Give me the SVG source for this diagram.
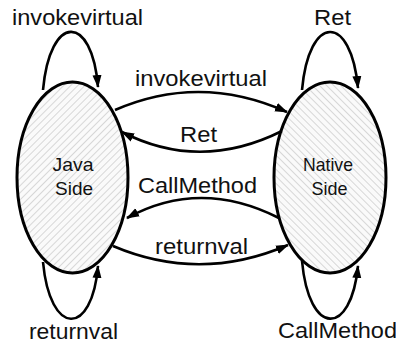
<svg xmlns="http://www.w3.org/2000/svg" width="396" height="346" viewBox="0 0 396 346">
<style>
.lbl{font-family:"Liberation Sans",Arial,sans-serif;font-size:22px;fill:#111}
.nl{font-family:"Liberation Sans",Arial,sans-serif;font-size:18.5px;fill:#111;text-anchor:middle}
.node{stroke:#000;stroke-width:3}
.edge{fill:none;stroke:#000;stroke-width:2.6}
</style>
<defs>
<pattern id="hatchJ" patternUnits="userSpaceOnUse" width="5" height="5" patternTransform="rotate(45)">
<rect width="5" height="5" fill="#fafafa"/>
<line x1="0" y1="0" x2="0" y2="5" stroke="#c4c4c4" stroke-width="1.3"/>
</pattern>
<pattern id="hatchN" patternUnits="userSpaceOnUse" width="5" height="5" patternTransform="rotate(-45)">
<rect width="5" height="5" fill="#fafafa"/>
<line x1="0" y1="0" x2="0" y2="5" stroke="#c4c4c4" stroke-width="1.3"/>
</pattern>
<marker id="arr" markerUnits="userSpaceOnUse" markerWidth="14" markerHeight="10" refX="12" refY="5" orient="auto">
<path d="M0,0.5 L13,5 L0,9.5 z" fill="#000"/>
</marker>
</defs>
<g id="java">
<ellipse class="node" cx="72.5" cy="177.5" rx="55.5" ry="95.5" fill="url(#hatchJ)"/>
<text class="nl" x="73" y="171" textLength="41" lengthAdjust="spacingAndGlyphs">Java</text>
<text class="nl" x="74" y="195" textLength="38" lengthAdjust="spacingAndGlyphs">Side</text>
</g>
<g id="native">
<ellipse class="node" cx="330" cy="177.5" rx="56" ry="95.5" fill="url(#hatchN)"/>
<text class="nl" x="328" y="171" textLength="50" lengthAdjust="spacingAndGlyphs">Native</text>
<text class="nl" x="329.5" y="195" textLength="36" lengthAdjust="spacingAndGlyphs">Side</text>
</g>
<g id="connectors">
<path class="edge" d="M43,90 C50,13 92,13 98,87" marker-end="url(#arr)"/>
<path class="edge" d="M302,90 C309,13 351,13 358,88" marker-end="url(#arr)"/>
<path class="edge" d="M115,110 Q200,73 287,112" marker-end="url(#arr)"/>
<path class="edge" d="M282,131 Q200,172 122,132" marker-end="url(#arr)"/>
<path class="edge" d="M279,218 Q200,178 127,218" marker-end="url(#arr)"/>
<path class="edge" d="M113,246 Q200,283 288,245" marker-end="url(#arr)"/>
<path class="edge" d="M43,262 C50,337 92,337 98,266" marker-end="url(#arr)"/>
<path class="edge" d="M302,261 C309,337 351,337 358,266" marker-end="url(#arr)"/>
<text class="lbl" x="12" y="25" textLength="131" lengthAdjust="spacingAndGlyphs">invokevirtual</text>
<text class="lbl" x="314" y="25" textLength="37" lengthAdjust="spacingAndGlyphs">Ret</text>
<text class="lbl" x="135" y="86" textLength="132" lengthAdjust="spacingAndGlyphs">invokevirtual</text>
<text class="lbl" x="180" y="142" textLength="37" lengthAdjust="spacingAndGlyphs">Ret</text>
<text class="lbl" x="138" y="193" textLength="119" lengthAdjust="spacingAndGlyphs">CallMethod</text>
<text class="lbl" x="155" y="254" textLength="93" lengthAdjust="spacingAndGlyphs">returnval</text>
<text class="lbl" x="29" y="339" textLength="89" lengthAdjust="spacingAndGlyphs">returnval</text>
<text class="lbl" x="278" y="338" textLength="119" lengthAdjust="spacingAndGlyphs">CallMethod</text>
</g>
</svg>
